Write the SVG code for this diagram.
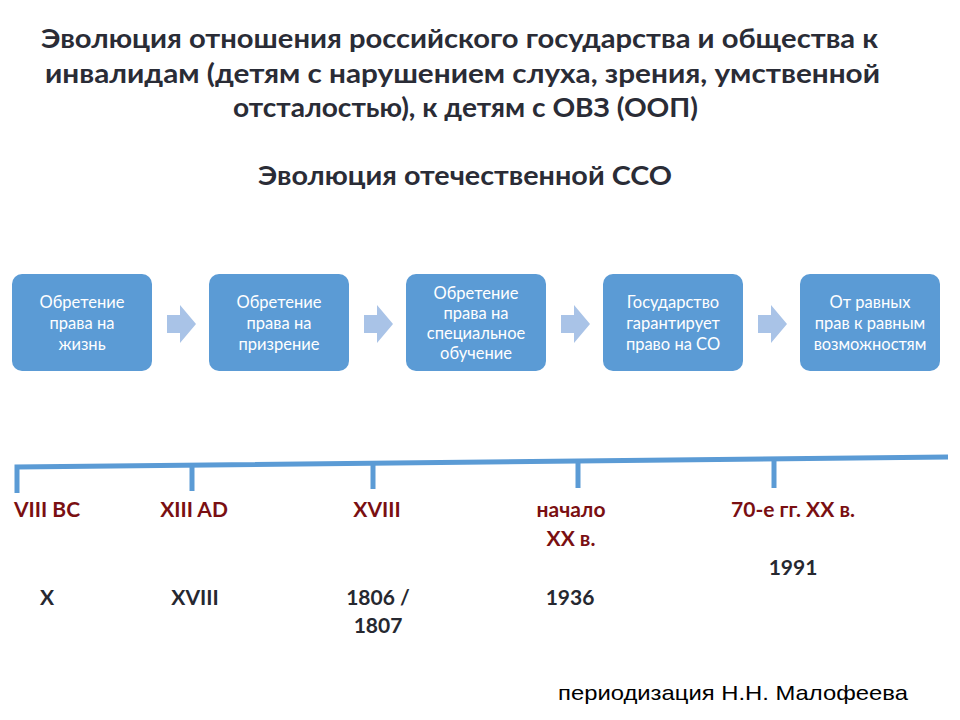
<svg xmlns="http://www.w3.org/2000/svg" width="960" height="720" viewBox="0 0 960 720">
<style>
.title{font-family:Lato,"Open Sans","Liberation Sans",sans-serif;font-weight:bold;font-size:27px;fill:#2A2C36}
.box{fill:#5B9BD5}
.bt{font-family:Lato,"Open Sans","Liberation Sans",sans-serif;font-size:16.5px;fill:#FFFFFF;text-anchor:middle}
.arr{fill:#A9C3E7}
.tl{fill:none;stroke:#5B9BD5;stroke-width:5}
.red{font-family:Lato,"Open Sans","Liberation Sans",sans-serif;font-weight:bold;font-size:21px;fill:#7A0F12;text-anchor:middle}
.blk{font-family:Lato,"Open Sans","Liberation Sans",sans-serif;font-weight:bold;font-size:21px;fill:#262830;text-anchor:middle}
.foot{font-family:"Liberation Sans",Arial,sans-serif;font-size:21px;fill:#000000}
</style>
<rect width="960" height="720" fill="#FFFFFF"/>
<g id="title">
<text class="title" x="41" y="48" textLength="837" lengthAdjust="spacingAndGlyphs">Эволюция отношения российского  государства и общества к</text>
<text class="title" x="45" y="83" textLength="835" lengthAdjust="spacingAndGlyphs">инвалидам (детям с нарушением слуха, зрения, умственной</text>
<text class="title" x="233" y="117" textLength="465" lengthAdjust="spacingAndGlyphs">отсталостью), к детям с ОВЗ (ООП)</text>
<text class="title" x="258" y="185" textLength="414" lengthAdjust="spacingAndGlyphs">Эволюция отечественной ССО</text>
</g>
<g id="connectors">
<path class="arr" d="M167,315 H180 V305 L196,324 L180,343 V333 H167 Z"/>
<path class="arr" d="M364,315 H377 V305 L393,324 L377,343 V333 H364 Z"/>
<path class="arr" d="M561,315 H574 V305 L590,324 L574,343 V333 H561 Z"/>
<path class="arr" d="M758,315 H771 V305 L787,324 L771,343 V333 H758 Z"/>
</g>
<g id="node1">
<rect class="box" x="12" y="274" width="140" height="97" rx="10"/>
<text class="bt" x="82" y="308">Обретение</text>
<text class="bt" x="82" y="329">права на</text>
<text class="bt" x="82" y="350">жизнь</text>
</g>
<g id="node2">
<rect class="box" x="209" y="274" width="140" height="97" rx="10"/>
<text class="bt" x="279" y="308">Обретение</text>
<text class="bt" x="279" y="329">права на</text>
<text class="bt" x="279" y="350">призрение</text>
</g>
<g id="node3">
<rect class="box" x="406" y="274" width="140" height="97" rx="10"/>
<text class="bt" x="476" y="299">Обретение</text>
<text class="bt" x="476" y="319">права на</text>
<text class="bt" x="476" y="339">специальное</text>
<text class="bt" x="476" y="359">обучение</text>
</g>
<g id="node4">
<rect class="box" x="603" y="274" width="140" height="97" rx="10"/>
<text class="bt" x="673" y="308">Государство</text>
<text class="bt" x="673" y="329">гарантирует</text>
<text class="bt" x="673" y="350">право на СО</text>
</g>
<g id="node5">
<rect class="box" x="800" y="274" width="140" height="97" rx="10"/>
<text class="bt" x="870" y="308">От равных</text>
<text class="bt" x="870" y="329">прав к равным</text>
<text class="bt" x="870" y="350">возможностям</text>
</g>
<g id="timeline">
<path class="tl" d="M17,493 V467 L948,457"/>
<path class="tl" d="M192,465 V491"/>
<path class="tl" d="M373,463 V489"/>
<path class="tl" d="M578,461 V488"/>
<path class="tl" d="M774,459 V488"/>
</g>
<g id="labels">
<text class="red" x="47" y="517">VIII BC</text>
<text class="red" x="194" y="517">XIII AD</text>
<text class="red" x="377" y="517">XVIII</text>
<text class="red" x="571" y="517">начало</text>
<text class="red" x="571" y="546">XX в.</text>
<text class="red" x="793" y="517">70-е гг. XX в.</text>
<text class="blk" x="47" y="605">X</text>
<text class="blk" x="195" y="605">XVIII</text>
<text class="blk" x="378" y="605">1806 /</text>
<text class="blk" x="378" y="633">1807</text>
<text class="blk" x="570" y="605">1936</text>
<text class="blk" x="793" y="575">1991</text>
</g>
<g id="footer">
<text class="foot" x="558" y="700" textLength="350" lengthAdjust="spacingAndGlyphs">периодизация Н.Н. Малофеева</text>
</g>
</svg>
